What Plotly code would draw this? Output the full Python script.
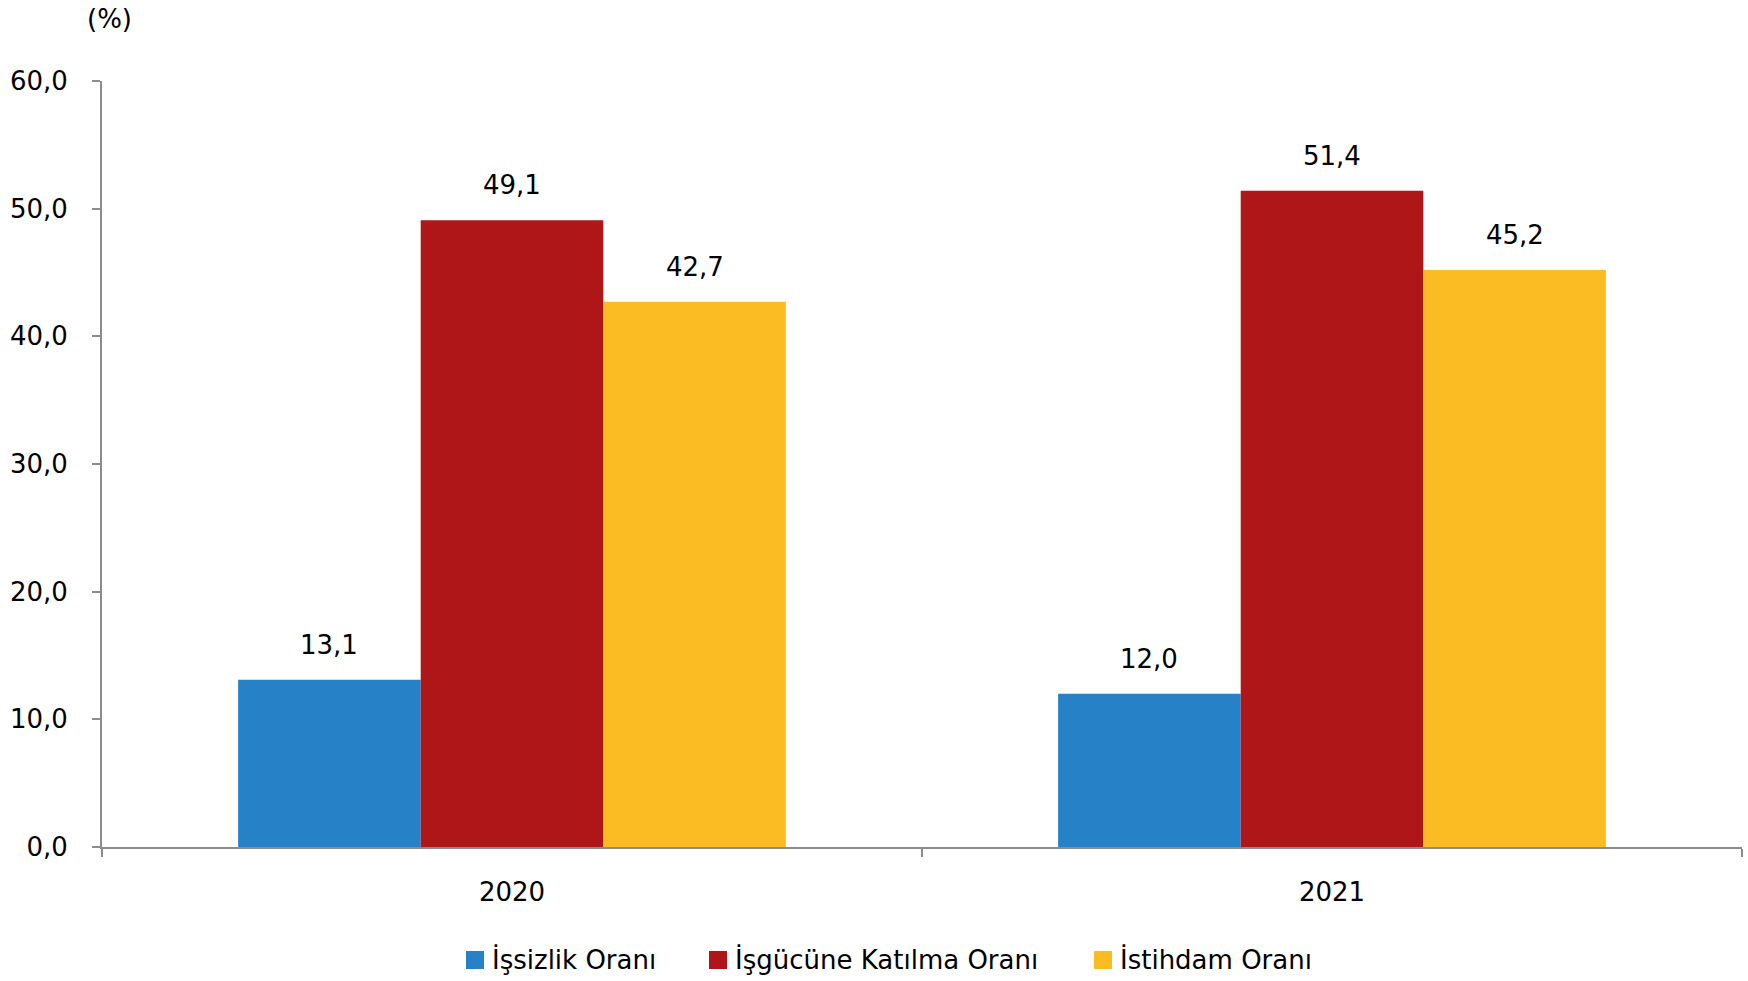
import plotly.graph_objects as go

years = ["2020", "2021"]
series_names = ["İşsizlik Oranı", "İşgücüne Katılma Oranı", "İstihdam Oranı"]
unemployment = [13.1, 12.0]
participation = [49.1, 51.4]
employment = [42.7, 45.2]
colors = ["#2681C6", "#AF1618", "#FBBB23"]
y_ticks = [0, 10, 20, 30, 40, 50, 60]

FONT = "DejaVu Sans"
FS = 26
W, H = 1748, 981
# plot area in page pixels: x 102..1742, y 81..847
ML = 102
MT = 81
MR = W - 1742
MB = H - 847
BARGAP = 0.332
plot_w = W - ML - MR
plot_h = H - MT - MB


def px(X):
    return (X - ML) / plot_w


def py(Y):
    return (H - MB - Y) / plot_h


fig = go.Figure()
all_values = [unemployment, participation, employment]
for name, vals, col in zip(series_names, all_values, colors):
    fig.add_trace(go.Bar(
        x=years, y=vals, name=name,
        marker=dict(color=col, line=dict(width=0)),
        hoverinfo="skip", showlegend=False,
    ))

# data labels above bars
cat_w = plot_w / len(years)
bar_w = cat_w * (1 - BARGAP) / len(series_names)
annotations = []
for i, vals in enumerate(all_values):
    shift = (i - (len(series_names) - 1) / 2) * bar_w
    for ci, v in enumerate(vals):
        annotations.append(dict(
            x=ci, y=v, xref="x", yref="y",
            text=f"{v:.1f}".replace(".", ","),
            showarrow=False, xshift=shift, yshift=35,
            xanchor="center", yanchor="middle",
            font=dict(family=FONT, size=FS, color="black"),
        ))
annotations.append(dict(
    x=px(109), y=py(19), xref="paper", yref="paper", text="(%)",
    showarrow=False, xanchor="center", yanchor="middle",
    font=dict(family=FONT, size=FS, color="black"),
))

# custom legend (square swatches + labels)
legend_marker_x = [466, 709, 1094]
legend_y = 960
SW = 18
shapes = []
for name, col, mx in zip(series_names, colors, legend_marker_x):
    shapes.append(dict(
        type="rect", xref="paper", yref="paper",
        x0=px(mx), x1=px(mx + SW), y0=py(legend_y + SW / 2), y1=py(legend_y - SW / 2),
        fillcolor=col, line=dict(width=0),
    ))
    annotations.append(dict(
        x=px(mx + SW + 6), y=py(legend_y), xref="paper", yref="paper",
        text=name, showarrow=False, xanchor="left", yanchor="middle",
        font=dict(family=FONT, size=FS, color="black"),
    ))

fig.update_layout(
    width=W, height=H,
    margin=dict(l=ML, r=MR, t=MT, b=MB, pad=0, autoexpand=False),
    paper_bgcolor="white", plot_bgcolor="white",
    barmode="group", bargap=BARGAP, bargroupgap=0,
    separators=",.",
    font=dict(family=FONT, size=FS, color="black"),
    showlegend=False,
    annotations=annotations,
    shapes=shapes,
)
fig.update_yaxes(
    range=[0, 60], tickvals=y_ticks, tickformat=".1f", automargin=False,
    showgrid=False, zeroline=False,
    showline=True, linecolor="#8C8C8C", linewidth=2,
    ticks="outside", ticklen=8, tickcolor="#8C8C8C", tickwidth=2,
    ticklabelstandoff=19,
    tickfont=dict(family=FONT, size=FS, color="black"),
)
fig.update_xaxes(
    type="category", range=[-0.5, len(years) - 0.5], automargin=False,
    showgrid=False, showline=True, linecolor="#8C8C8C", linewidth=2,
    ticks="outside", tickson="boundaries", ticklen=8, tickcolor="#8C8C8C", tickwidth=2,
    ticklabelstandoff=21,
    tickfont=dict(family=FONT, size=FS, color="black"),
)

fig.write_html(
    "out.html",
    config={"displayModeBar": False},
    post_script="document.body.style.margin='0';",
)
